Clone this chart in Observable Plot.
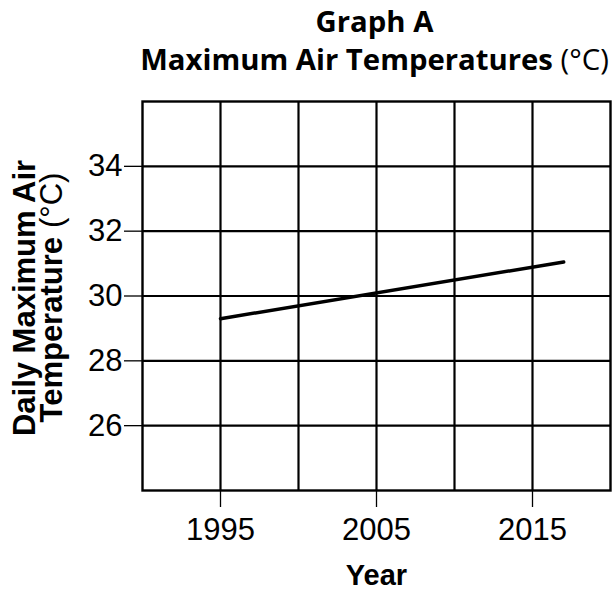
<!DOCTYPE html>
<html>
<head>
<meta charset="utf-8">
<script src="https://cdn.jsdelivr.net/npm/d3@7"></script>
<script src="https://cdn.jsdelivr.net/npm/@observablehq/plot@0.6"></script>
<style>
  html, body { margin: 0; padding: 0; background: white; overflow: hidden; }
  #title { height: 84px; box-sizing: border-box; padding-top: 2px; margin-left: 140px; width: 469px;
           text-align: center; font-family: "Open Sans", sans-serif; font-weight: 700; font-size: 29.3px;
           line-height: 38px; color: #000; white-space: nowrap; }
  #title .unit { font-weight: 400; }
</style>
</head>
<body>
<div id="title"><div>Graph A</div><div>Maximum Air Temperatures <span class="unit">(°C)</span></div></div>
<div id="chart"></div>
<script>
const years = [1995, 2017];
const temps = [29.3, 31.05];
const xTicks = [1995, 2005, 2015];
const xGrid = [1995, 2000, 2005, 2010, 2015];
const yTicks = [26, 28, 30, 32, 34];
const xLabel = "Year";
const yLabel1 = "Daily Maximum Air";
const yLabel2a = "Temperature";
const yLabel2b = "(°C)";

const data = years.map((y, i) => ({year: y, temp: temps[i]}));

const chart = Plot.plot({
  width: 616,
  height: 506,
  marginTop: 17,
  marginBottom: 100,
  marginLeft: 142,
  marginRight: 6,
  style: {fontFamily: "'Liberation Sans', Arial, sans-serif", color: "#000", background: "white"},
  x: {domain: [1990, 2020]},
  y: {domain: [24, 36]},
  marks: [
    Plot.gridX(xGrid, {stroke: "#000", strokeOpacity: 1, strokeWidth: 2.2}),
    Plot.gridY(yTicks, {stroke: "#000", strokeOpacity: 1, strokeWidth: 2.2}),
    Plot.frame({stroke: "#000", strokeWidth: 2.4}),
    Plot.axisX(xTicks, {tickSize: 17, tickPadding: 10, fontSize: 31, tickFormat: d => String(d), label: null, strokeWidth: 1.3}),
    Plot.axisY(yTicks, {tickSize: 18, tickPadding: 2, fontSize: 31, label: null, strokeWidth: 1.3}),
    Plot.line(data, {x: "year", y: "temp", stroke: "#000", strokeWidth: 3.5}),
    Plot.text([xLabel], {frameAnchor: "bottom", lineAnchor: "middle", dy: 85.7, fontSize: 29, fontWeight: "bold", text: d => d}),
    Plot.text([yLabel1], {frameAnchor: "left", lineAnchor: "middle", textAnchor: "middle", rotate: -90, dx: -117.6, dy: 2, fontSize: 31, fontWeight: "bold", text: d => d}),
    Plot.text([yLabel2a], {frameAnchor: "left", lineAnchor: "middle", rotate: -90, dx: -90.2, dy: 126.5, textAnchor: "start", fontSize: 31, fontWeight: "bold", text: d => d}),
    Plot.text([yLabel2b], {frameAnchor: "left", lineAnchor: "middle", rotate: -90, dx: -90.2, dy: -68, textAnchor: "start", fontSize: 31, fontWeight: "normal", text: d => d})
  ]
});
document.getElementById("chart").appendChild(chart);
</script>
</body>
</html>
